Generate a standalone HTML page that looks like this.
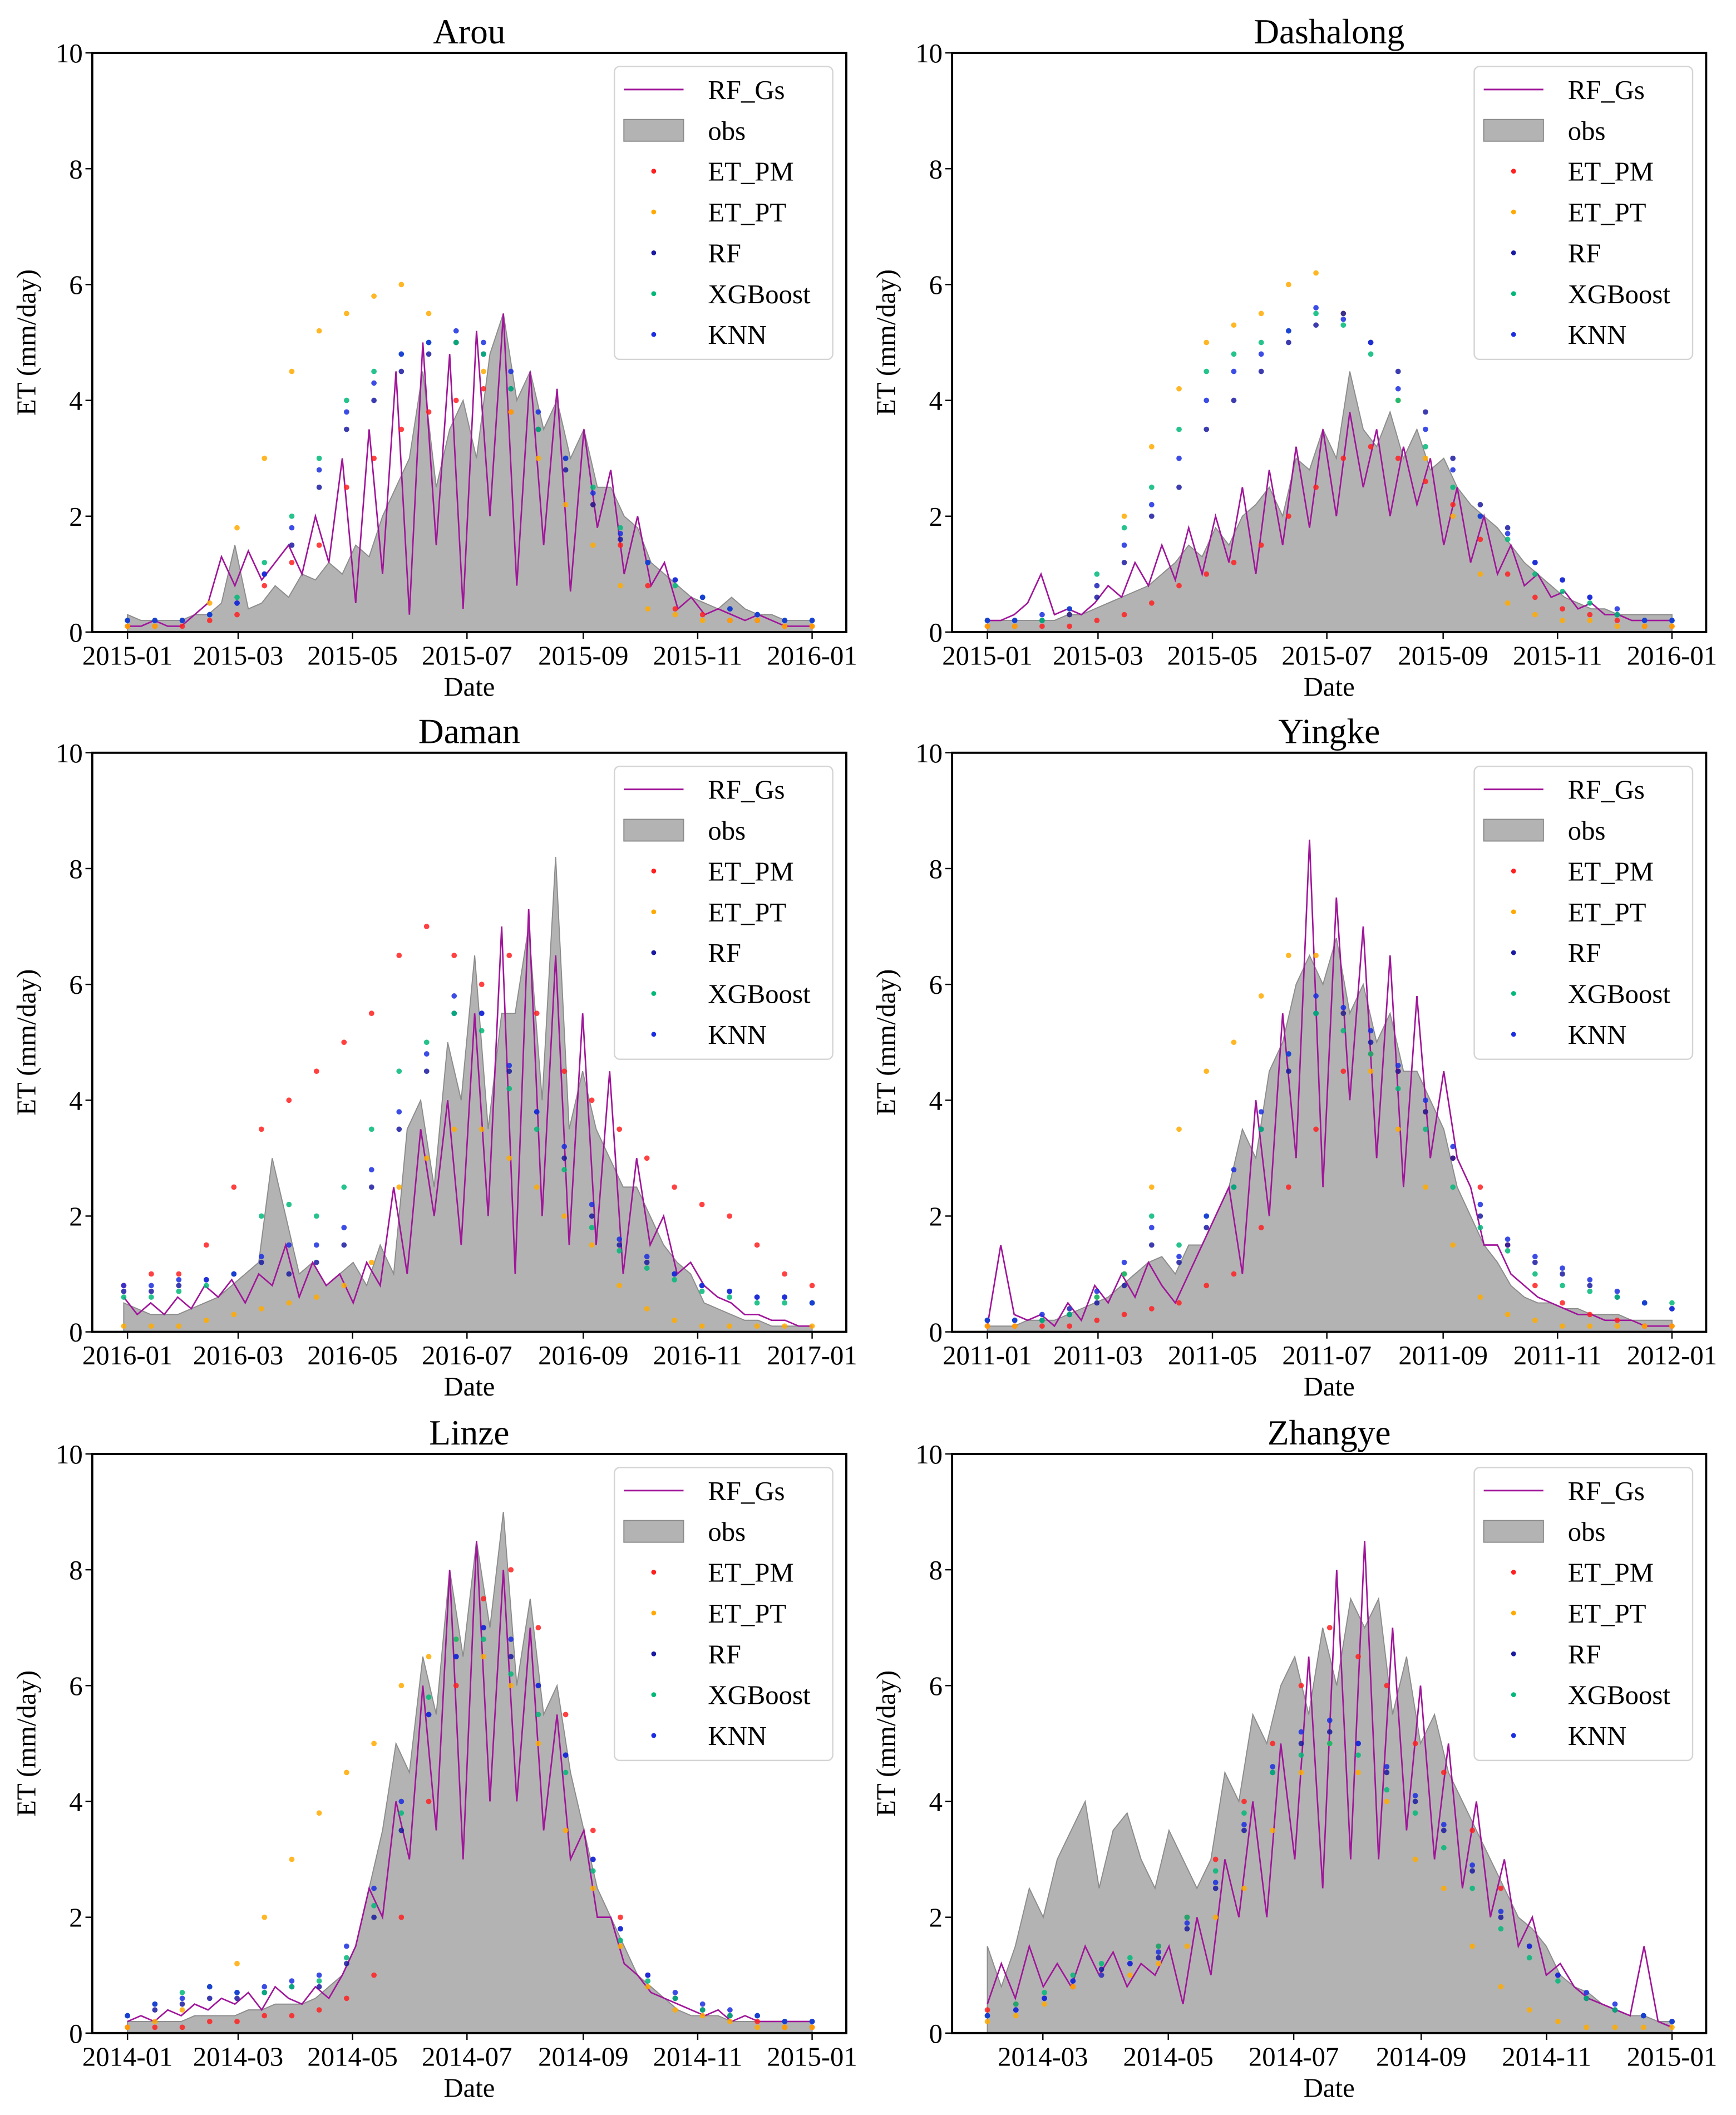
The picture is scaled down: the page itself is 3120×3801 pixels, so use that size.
<!DOCTYPE html>
<html><head><meta charset="utf-8">
<style>
html,body{margin:0;padding:0;background:#fff;}
svg{display:block;}
text{font-family:"Liberation Serif","DejaVu Serif",serif;fill:#000;}
</style></head>
<body>
<svg id="fig" xmlns="http://www.w3.org/2000/svg" width="3120" height="3801" viewBox="0 0 1280 1559.4"></svg>
<script>
// ---------- data (ET, mm/day) ----------
const arouObs=[0.3,0.2,0.2,0.2,0.2,0.3,0.3,0.5,1.5,0.4,0.5,0.8,0.6,1.0,0.9,1.2,1.0,1.5,1.3,2.0,2.5,3.0,4.5,2.5,3.5,4.0,3.0,4.8,5.5,4.0,4.5,3.5,4.0,3.0,3.5,2.5,2.5,2.0,1.8,1.2,1.0,0.8,0.6,0.5,0.4,0.6,0.4,0.3,0.3,0.2,0.2,0.2];
const arouGs=[0.1,0.1,0.2,0.1,0.1,0.3,0.5,1.3,0.8,1.4,0.9,1.2,1.5,1.0,2.0,1.2,3.0,0.5,3.5,1.0,4.5,0.3,5.0,1.5,4.8,0.4,5.2,2.0,5.5,0.8,4.5,1.5,4.2,0.7,3.5,1.8,2.8,1.0,2.0,0.8,1.2,0.4,0.6,0.3,0.4,0.3,0.2,0.3,0.2,0.1,0.1,0.1];
const arouPM=[0.1,0.1,0.1,0.2,0.3,0.8,1.2,1.5,2.5,3.0,3.5,3.8,4.0,4.2,3.8,3.5,3.0,2.2,1.5,0.8,0.4,0.3,0.2,0.2,0.1,0.1];
const arouPT=[0.1,0.1,0.2,0.5,1.8,3.0,4.5,5.2,5.5,5.8,6.0,5.5,5.0,4.5,3.8,3.0,2.2,1.5,0.8,0.4,0.3,0.2,0.2,0.2,0.1,0.1];
const arouRF=[0.2,0.2,0.2,0.3,0.5,1.0,1.5,2.5,3.5,4.0,4.5,4.8,5.0,4.8,4.2,3.5,2.8,2.2,1.6,1.2,0.9,0.6,0.4,0.3,0.2,0.2];
const arouXGB=[0.2,0.2,0.2,0.3,0.6,1.2,2.0,3.0,4.0,4.5,4.8,5.0,5.0,4.8,4.2,3.5,3.0,2.5,1.8,1.2,0.8,0.6,0.4,0.3,0.2,0.2];
const arouKNN=[0.2,0.2,0.2,0.3,0.5,1.0,1.8,2.8,3.8,4.3,4.8,5.0,5.2,5.0,4.5,3.8,3.0,2.4,1.7,1.2,0.9,0.6,0.4,0.3,0.2,0.2];

const dashObs=[0.2,0.2,0.2,0.2,0.2,0.2,0.3,0.3,0.4,0.5,0.6,0.7,0.8,1.0,1.2,1.5,1.3,1.8,1.5,2.0,2.2,2.5,2.0,3.0,2.8,3.5,3.0,4.5,3.5,3.2,3.8,3.0,3.5,2.8,3.0,2.5,2.2,2.0,1.8,1.5,1.2,1.0,0.8,0.6,0.5,0.4,0.4,0.3,0.3,0.3,0.3,0.3];
const dashGs=[0.2,0.2,0.3,0.5,1.0,0.3,0.4,0.3,0.5,0.8,0.6,1.2,0.8,1.5,0.9,1.8,1.0,2.0,1.2,2.5,1.0,2.8,1.5,3.2,1.8,3.5,2.0,3.8,2.5,3.5,2.0,3.2,2.2,3.0,1.5,2.5,1.2,2.0,1.0,1.5,0.8,1.0,0.6,0.7,0.4,0.5,0.3,0.3,0.2,0.2,0.2,0.2];
const dashPM=[0.1,0.1,0.1,0.1,0.2,0.3,0.5,0.8,1.0,1.2,1.5,2.0,2.5,3.0,3.2,3.0,2.6,2.2,1.6,1.0,0.6,0.4,0.3,0.2,0.1,0.1];
const dashPT=[0.1,0.1,0.2,0.3,0.8,2.0,3.2,4.2,5.0,5.3,5.5,6.0,6.2,5.5,5.0,4.0,3.0,2.0,1.0,0.5,0.3,0.2,0.2,0.1,0.1,0.1];
const dashRF=[0.2,0.2,0.2,0.3,0.6,1.2,2.0,2.5,3.5,4.0,4.5,5.0,5.3,5.5,5.0,4.5,3.8,3.0,2.2,1.8,1.2,0.9,0.6,0.3,0.2,0.2];
const dashXGB=[0.2,0.2,0.2,0.4,1.0,1.8,2.5,3.5,4.5,4.8,5.0,5.2,5.5,5.3,4.8,4.0,3.2,2.5,2.0,1.6,1.0,0.7,0.5,0.3,0.2,0.2];
const dashKNN=[0.2,0.2,0.3,0.4,0.8,1.5,2.2,3.0,4.0,4.5,4.8,5.2,5.6,5.4,5.0,4.2,3.5,2.8,2.0,1.7,1.2,0.9,0.6,0.4,0.2,0.2];

const damanObs=[0.5,0.4,0.3,0.3,0.3,0.4,0.5,0.6,0.8,1.0,1.2,3.0,2.0,1.0,1.2,0.8,1.0,1.2,0.8,1.5,1.0,3.5,4.0,2.5,5.0,4.0,6.5,3.5,5.5,5.5,7.0,4.0,8.2,3.5,4.5,3.5,3.0,2.5,2.5,2.0,1.5,1.2,1.0,0.5,0.4,0.3,0.2,0.2,0.1,0.1,0.1,0.1];
const damanGs=[0.6,0.3,0.5,0.3,0.6,0.4,0.8,0.6,0.9,0.5,1.0,0.8,1.5,0.6,1.2,0.8,1.0,0.5,1.2,0.8,2.5,1.0,3.5,2.0,4.0,1.5,5.5,2.0,7.0,1.0,7.3,2.0,6.5,1.5,5.5,1.5,4.5,1.0,3.0,1.5,2.0,1.0,1.2,0.8,0.6,0.5,0.3,0.3,0.2,0.2,0.1,0.1];
const damanPM=[0.8,1.0,1.0,1.5,2.5,3.5,4.0,4.5,5.0,5.5,6.5,7.0,6.5,6.0,6.5,5.5,4.5,4.0,3.5,3.0,2.5,2.2,2.0,1.5,1.0,0.8];
const damanPT=[0.1,0.1,0.1,0.2,0.3,0.4,0.5,0.6,0.8,1.2,2.5,3.0,3.5,3.5,3.0,2.5,2.0,1.5,0.8,0.4,0.2,0.1,0.1,0.1,0.1,0.1];
const damanRF=[0.7,0.7,0.8,0.9,1.0,1.2,1.0,1.2,1.5,2.5,3.5,4.5,5.5,5.5,4.5,3.8,3.0,2.0,1.5,1.2,1.0,0.8,0.7,0.6,0.6,0.5];
const damanXGB=[0.6,0.6,0.7,0.8,1.0,2.0,2.2,2.0,2.5,3.5,4.5,5.0,5.5,5.2,4.2,3.5,2.8,1.8,1.4,1.1,0.9,0.7,0.6,0.5,0.5,0.5];
const damanKNN=[0.8,0.8,0.9,0.9,1.0,1.3,1.5,1.5,1.8,2.8,3.8,4.8,5.8,5.5,4.6,3.8,3.2,2.2,1.6,1.3,1.0,0.8,0.7,0.6,0.6,0.5];

const yingObs=[0.1,0.1,0.1,0.2,0.2,0.2,0.3,0.4,0.5,0.6,0.8,1.0,1.2,1.3,1.0,1.5,1.5,2.0,2.5,3.5,3.0,4.5,5.0,6.0,6.5,6.0,6.8,5.5,6.0,5.0,5.5,4.5,4.5,4.0,3.5,2.5,2.0,1.5,1.2,0.8,0.6,0.5,0.5,0.4,0.4,0.3,0.3,0.3,0.2,0.2,0.2,0.2];
const yingGs=[0.1,1.5,0.3,0.2,0.3,0.1,0.5,0.2,0.8,0.5,1.0,0.6,1.2,0.8,0.5,1.0,1.5,2.0,2.5,1.0,4.0,2.0,5.5,3.0,8.5,2.5,7.5,4.0,7.0,3.0,6.5,2.5,5.8,3.0,4.5,3.0,2.5,1.5,1.5,1.0,0.8,0.6,0.5,0.4,0.3,0.3,0.2,0.2,0.2,0.1,0.1,0.1];
const yingPM=[0.1,0.1,0.1,0.1,0.2,0.3,0.4,0.5,0.8,1.0,1.8,2.5,3.5,4.5,4.8,4.5,3.8,3.0,2.5,1.5,0.8,0.5,0.3,0.2,0.1,0.1];
const yingPT=[0.1,0.1,0.2,0.4,0.6,1.0,2.5,3.5,4.5,5.0,5.8,6.5,6.5,5.5,4.5,3.5,2.5,1.5,0.6,0.3,0.2,0.1,0.1,0.1,0.1,0.1];
const yingRF=[0.2,0.2,0.2,0.3,0.5,0.8,1.5,1.2,1.8,2.5,3.5,4.5,5.5,5.5,5.0,4.5,3.8,3.0,2.0,1.5,1.2,1.0,0.8,0.6,0.5,0.4];
const yingXGB=[0.2,0.2,0.2,0.3,0.6,1.0,2.0,1.5,2.0,2.5,3.5,4.8,5.5,5.2,4.8,4.2,3.5,2.5,1.8,1.4,1.0,0.8,0.7,0.6,0.5,0.5];
const yingKNN=[0.2,0.2,0.3,0.4,0.7,1.2,1.8,1.3,2.0,2.8,3.8,4.8,5.8,5.6,5.2,4.6,4.0,3.2,2.2,1.6,1.3,1.1,0.9,0.7,0.5,0.4];

const linzeObs=[0.2,0.2,0.2,0.2,0.2,0.3,0.3,0.3,0.3,0.4,0.4,0.5,0.5,0.5,0.6,0.8,1.0,1.5,2.5,3.5,5.0,4.5,6.5,5.5,8.0,6.5,8.5,7.0,9.0,6.0,7.5,5.5,6.0,4.5,3.5,2.5,2.0,1.5,1.0,0.8,0.6,0.4,0.3,0.3,0.3,0.2,0.2,0.2,0.2,0.2,0.2,0.2];
const linzeGs=[0.2,0.3,0.2,0.4,0.3,0.5,0.4,0.6,0.5,0.7,0.4,0.8,0.6,0.5,0.8,0.6,1.0,1.5,2.5,2.0,4.0,3.0,6.0,3.5,8.0,3.0,8.5,4.0,8.0,4.0,7.0,3.5,5.5,3.0,3.5,2.0,2.0,1.2,1.0,0.7,0.6,0.5,0.4,0.3,0.4,0.2,0.3,0.2,0.2,0.2,0.2,0.2];
const linzePM=[0.1,0.1,0.1,0.2,0.2,0.3,0.3,0.4,0.6,1.0,2.0,4.0,6.0,7.5,8.0,7.0,5.5,3.5,2.0,1.0,0.6,0.4,0.3,0.2,0.1,0.1];
const linzePT=[0.1,0.2,0.4,0.8,1.2,2.0,3.0,3.8,4.5,5.0,6.0,6.5,6.8,6.5,6.0,5.0,3.5,2.5,1.5,0.8,0.4,0.3,0.2,0.1,0.1,0.1];
const linzeRF=[0.3,0.4,0.5,0.6,0.6,0.7,0.8,0.8,1.2,2.0,3.5,5.5,6.5,7.0,6.5,6.0,4.8,3.0,1.8,1.0,0.6,0.4,0.3,0.3,0.2,0.2];
const linzeXGB=[0.3,0.5,0.7,0.8,0.7,0.7,0.8,0.9,1.3,2.2,3.8,5.8,6.8,6.8,6.2,5.5,4.5,2.8,1.6,0.9,0.6,0.4,0.3,0.3,0.2,0.2];
const linzeKNN=[0.3,0.5,0.6,0.8,0.7,0.8,0.9,1.0,1.5,2.5,4.0,5.5,6.5,7.0,6.8,6.0,4.8,3.0,1.8,1.0,0.7,0.5,0.4,0.3,0.2,0.2];

const zhangObs=[1.5,0.8,1.5,2.5,2.0,3.0,3.5,4.0,2.5,3.5,3.8,3.0,2.5,3.5,3.0,2.5,3.0,4.5,4.0,5.5,5.0,6.0,6.5,5.5,7.0,6.0,7.5,7.0,7.5,5.5,6.5,5.0,5.5,4.5,4.0,3.5,3.0,2.5,2.0,1.8,1.5,1.0,0.8,0.7,0.5,0.4,0.3,0.3,0.2,0.2];
const zhangGs=[0.5,1.2,0.6,1.5,0.8,1.2,0.8,1.5,1.0,1.4,0.8,1.2,1.0,1.5,0.5,2.0,1.0,3.0,2.0,4.0,2.0,5.0,3.0,6.5,2.5,8.0,3.0,8.5,3.0,7.0,3.5,6.0,3.0,5.0,2.5,4.0,2.0,3.0,1.5,2.0,1.0,1.2,0.8,0.6,0.5,0.4,0.3,1.5,0.2,0.1];
const zhangPM=[0.4,0.5,0.6,0.8,1.0,1.2,1.5,2.0,3.0,4.0,5.0,6.0,7.0,6.5,6.0,5.0,4.5,3.5,2.5,1.5,1.0,0.6,0.4,0.3,0.2];
const zhangPT=[0.2,0.3,0.5,0.8,1.0,1.0,1.2,1.5,2.0,2.5,3.5,4.5,5.0,4.5,4.0,3.0,2.5,1.5,0.8,0.4,0.2,0.1,0.1,0.1,0.1];
const zhangRF=[0.3,0.4,0.6,0.9,1.1,1.2,1.3,1.8,2.5,3.5,4.5,5.0,5.2,5.0,4.5,4.0,3.5,2.8,2.0,1.5,1.0,0.6,0.4,0.3,0.2];
const zhangXGB=[0.3,0.5,0.7,1.0,1.2,1.3,1.5,2.0,2.8,3.8,4.5,4.8,5.0,4.8,4.2,3.8,3.2,2.5,1.8,1.3,0.9,0.6,0.4,0.3,0.2];
const zhangKNN=[0.3,0.4,0.6,0.9,1.0,1.2,1.4,1.9,2.6,3.6,4.6,5.2,5.4,5.0,4.6,4.1,3.6,2.9,2.1,1.5,1.0,0.7,0.5,0.3,0.2];

const yTicks=[0,2,4,6,8,10];
const monthDays=[0,59,120,181,243,304,365];
const monthLabels=["01","03","05","07","09","11","01"];
const legendLabels=["RF_Gs","obs","ET_PM","ET_PT","RF","XGBoost","KNN"];

// ---------- layout ----------
const FONT='"Liberation Serif", "DejaVu Serif", serif';
const C={gs:"#a0159a",obsFill:"#b3b3b3",obsEdge:"#8c8c8c",pm:"#ff2020",pt:"#ffaa00",rf:"#1a1aa0",xgb:"#00b878",knn:"#1a2ee0"};
const svg=document.getElementById('fig');
const NS="http://www.w3.org/2000/svg";
function mk(tag,attrs,parent){const e=document.createElementNS(NS,tag);for(const k in attrs)e.setAttribute(k,attrs[k]);if(tag==='text')e.setAttribute('font-family',FONT);(parent||svg).appendChild(e);return e;}

const panels=[
 {key:"arou",title:"Arou",year:2015,L:68,T:39,W:556,H:427,jan:94,ppd:1.383,d0:0,d1:365,obs:arouObs,gs:arouGs,pm:arouPM,pt:arouPT,rf:arouRF,xgb:arouXGB,knn:arouKNN},
 {key:"dashalong",title:"Dashalong",year:2015,L:702,T:39,W:556,H:427,jan:728,ppd:1.383,d0:0,d1:365,obs:dashObs,gs:dashGs,pm:dashPM,pt:dashPT,rf:dashRF,xgb:dashXGB,knn:dashKNN},
 {key:"daman",title:"Daman",year:2016,L:68,T:555,W:556,H:427,jan:94,ppd:1.383,d0:-2,d1:365,obs:damanObs,gs:damanGs,pm:damanPM,pt:damanPT,rf:damanRF,xgb:damanXGB,knn:damanKNN},
 {key:"yingke",title:"Yingke",year:2011,L:702,T:555,W:556,H:427,jan:728,ppd:1.383,d0:0,d1:365,obs:yingObs,gs:yingGs,pm:yingPM,pt:yingPT,rf:yingRF,xgb:yingXGB,knn:yingKNN},
 {key:"linze",title:"Linze",year:2014,L:68,T:1072,W:556,H:427,jan:94,ppd:1.383,d0:0,d1:365,obs:linzeObs,gs:linzeGs,pm:linzePM,pt:linzePT,rf:linzeRF,xgb:linzeXGB,knn:linzeKNN},
 {key:"zhangye",title:"Zhangye",year:2014,L:702,T:1072,W:556,H:427,jan:679.5,ppd:1.516,d0:32,d1:365,obs:zhangObs,gs:zhangGs,pm:zhangPM,pt:zhangPT,rf:zhangRF,xgb:zhangXGB,knn:zhangKNN}
];

panels.forEach(p=>{
  const g=mk('g',{});
  
  
  const xs=d=>p.jan+d*p.ppd;
  const ys=v=>p.T+p.H-v*p.H/10;
  const dayAt=(i,n)=>p.d0+i*(p.d1-p.d0)/(n-1);
  const clip='clip-'+p.key;
  const cp=mk('clipPath',{id:clip},g); mk('rect',{x:p.L,y:p.T,width:p.W,height:p.H},cp);
  const plot=mk('g',{'clip-path':'url(#'+clip+')'},g);
  let d='M'+xs(dayAt(0,p.obs.length))+','+ys(0);
  p.obs.forEach((v,i)=>{d+=' L'+xs(dayAt(i,p.obs.length)).toFixed(2)+','+ys(v).toFixed(2);});
  d+=' L'+xs(dayAt(p.obs.length-1,p.obs.length))+','+ys(0)+' Z';
  const a=mk('path',{d:d,fill:C.obsFill,stroke:C.obsEdge,'stroke-width':0.8},plot);
  
  
  const pts=p.gs.map((v,i)=>xs(dayAt(i,p.gs.length)).toFixed(2)+','+ys(v).toFixed(2)).join(' ');
  const ln=mk('polyline',{points:pts,fill:'none',stroke:C.gs,'stroke-width':1.1},plot);
  
  
  [['pm',C.pm],['pt',C.pt],['rf',C.rf],['xgb',C.xgb],['knn',C.knn]].forEach(([k,col])=>{
    const sg=mk('g',{fill:col,'fill-opacity':0.85},plot);
    
    
    const arr=p[k];
    arr.forEach((v,i)=>{
      const c=mk('circle',{cx:xs(dayAt(i,arr.length)).toFixed(2),cy:ys(v).toFixed(2),r:2},sg);
      
      
    });
  });
  const fr=mk('rect',{x:p.L,y:p.T,width:p.W,height:p.H,fill:'none',stroke:'#000','stroke-width':1.6},g);
  
  
  yTicks.forEach(t=>{
    mk('line',{x1:p.L,x2:p.L-5,y1:ys(t),y2:ys(t),stroke:'#000','stroke-width':1},g);
    const tx=mk('text',{x:p.L-7,y:ys(t)+7,'text-anchor':'end','font-size':20},g);
    tx.textContent=t;
    
    
  });
  monthDays.forEach((md,i)=>{
    if(p.key==='zhangye'&&i===0)return;
    const x=xs(md);
    mk('line',{x1:x,x2:x,y1:p.T+p.H,y2:p.T+p.H+5,stroke:'#000','stroke-width':1},g);
    const tx=mk('text',{x:x,y:p.T+p.H+24,'text-anchor':'middle','font-size':20},g);
    tx.textContent=(i===6?p.year+1:p.year)+'-'+monthLabels[i];
    
    
  });
  const cx=p.L+p.W/2;
  const tt=mk('text',{x:cx,y:p.T-7,'text-anchor':'middle','font-size':26},g);
  tt.textContent=p.title;
  
  
  const xl=mk('text',{x:cx,y:p.T+p.H+47,'text-anchor':'middle','font-size':20},g);
  xl.textContent='Date';
  
  
  const yl=mk('text',{x:0,y:0,'text-anchor':'middle','font-size':20,transform:'translate('+(p.L-42)+','+(p.T+p.H/2)+') rotate(-90)'},g);
  yl.textContent='ET (mm/day)';
  
  
  const lx=p.L+p.W-171, ly=p.T+10;
  const lg=mk('g',{},g);
  
  
  mk('rect',{x:lx,y:ly,width:161,height:216,rx:4,fill:'#fff','fill-opacity':0.85,stroke:'#d4d4d4','stroke-width':1},lg);
  legendLabels.forEach((lab,i)=>{
    const ry=ly+17+i*30.1;
    const e=mk('g',{},lg);
    
    
    if(i===0) mk('line',{x1:lx+7,x2:lx+51,y1:ry,y2:ry,stroke:C.gs,'stroke-width':1.2},e);
    else if(i===1) mk('rect',{x:lx+7,y:ry-8,width:44,height:16,fill:C.obsFill,stroke:C.obsEdge,'stroke-width':0.8},e);
    else mk('circle',{cx:lx+29,cy:ry,r:1.8,fill:[C.pm,C.pt,C.rf,C.xgb,C.knn][i-2]},e);
    const t=mk('text',{x:lx+69,y:ry+7,'font-size':20},e);
    t.textContent=lab;
  });
});
</script>
</body></html>
